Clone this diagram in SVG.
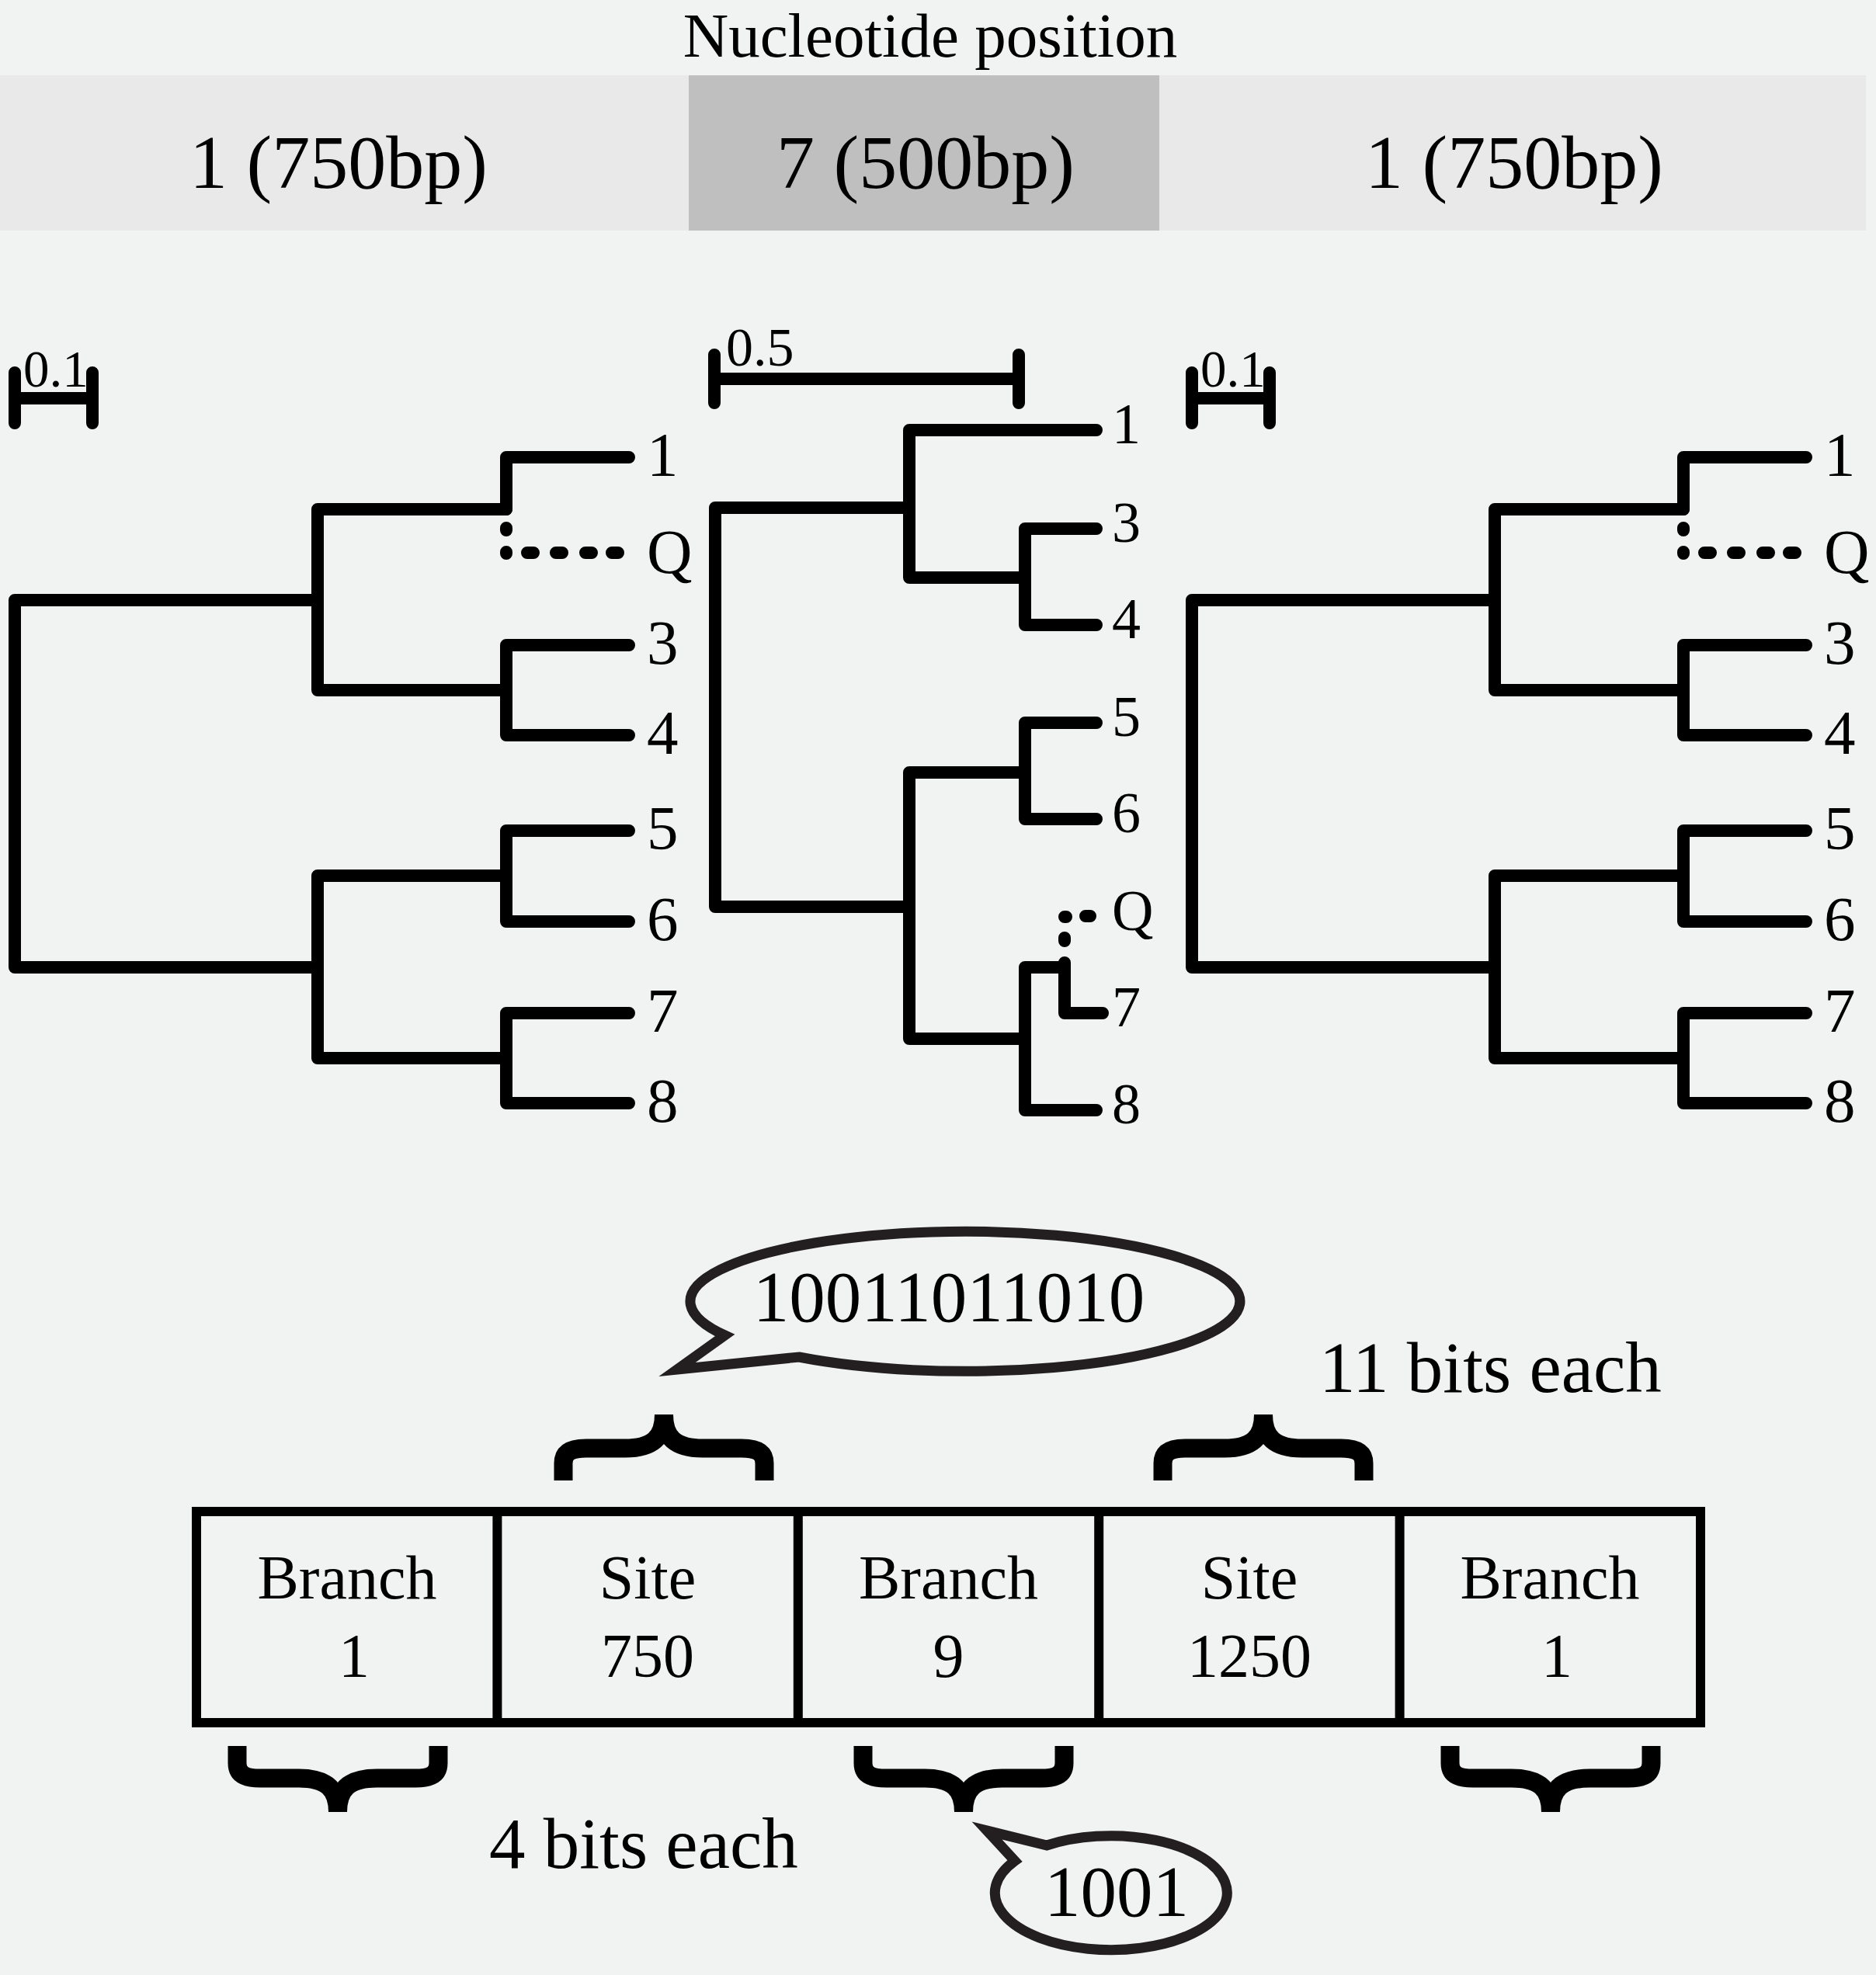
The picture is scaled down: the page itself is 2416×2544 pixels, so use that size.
<svg xmlns="http://www.w3.org/2000/svg" width="2416" height="2544" viewBox="0 0 2416 2544">
<defs>
<style>
.t{font-family:"Liberation Serif","Times New Roman",serif;fill:#000}
.br{fill:none;stroke:#000;stroke-width:16;stroke-linecap:round;stroke-linejoin:round}
.dot{fill:none;stroke:#000;stroke-width:16;stroke-linecap:round}
.lab{font-size:81px}
.mlab{font-size:74px}
.cell{font-size:80px;text-anchor:middle}
.bub{fill:none;stroke:#231f20;stroke-width:13;stroke-linejoin:miter;stroke-miterlimit:10}
.brace{fill:none;stroke:#000;stroke-width:24;stroke-linecap:butt}
</style>
<path id="brace" d="M-129.5,0 V-22 C-129.5,-36 -120,-41.5 -100,-41.5 H-50 C-15,-41.5 0,-55 0,-85 C0,-55 15,-41.5 50,-41.5 H100 C120,-41.5 129.5,-36 129.5,-22 V0"/>
</defs>
<rect width="2416" height="2544" fill="#f1f2f2"/>

<g id="header">
<text class="t" x="1198" y="73" font-size="81" text-anchor="middle">Nucleotide position</text>
<rect x="0" y="97" width="887" height="200" fill="#e9e9e9"/>
<rect x="887" y="97" width="606" height="200" fill="#bfbfbf"/>
<rect x="1493" y="97" width="910" height="200" fill="#e9e9e9"/>
<text class="t" x="436" y="242" font-size="98" text-anchor="middle">1 (750bp)</text>
<text class="t" x="1192" y="242" font-size="98" text-anchor="middle">7 (500bp)</text>
<text class="t" x="1950" y="242" font-size="98" text-anchor="middle">1 (750bp)</text>
</g>

<g id="tree-left">
<path class="br" d="M19,480 V545 M119,480 V545 M19,513 H119"/>
<text class="t" x="30" y="498" font-size="67">0.1</text>
<path class="br" d="M409,773 H19 V1246 H409"/>
<path class="br" d="M652,656 H409 V889 H652"/>
<path class="br" d="M652,656 V589 H810"/>
<path class="br" d="M810,831 H652 V947 H810"/>
<path class="br" d="M652,1128 H409 V1363 H652"/>
<path class="br" d="M810,1070 H652 V1187 H810"/>
<path class="br" d="M810,1305 H652 V1421 H810"/>
<path class="dot" d="M652,680 v3 M652,711 v2 M679,712 h8 M716,712 h8 M754,712 h8 M788,712 h8"/>
<g class="t lab">
<text x="833" y="613">1</text>
<text x="833" y="738">Q</text>
<text x="833" y="855">3</text>
<text x="833" y="971">4</text>
<text x="833" y="1094">5</text>
<text x="833" y="1211">6</text>
<text x="833" y="1329">7</text>
<text x="833" y="1445">8</text>
</g>
</g>

<g id="tree-middle">
<path class="br" d="M920,457 V519 M1312,457 V519 M920,488 H1312"/>
<text class="t" x="935" y="471" font-size="70">0.5</text>
<path class="br" d="M1171,654 H921 V1168 H1171"/>
<path class="br" d="M1412,554 H1171 V744 H1320"/>
<path class="br" d="M1412,681 H1320 V805 H1412"/>
<path class="br" d="M1320,995 H1171 V1338 H1320"/>
<path class="br" d="M1412,931 H1320 V1055 H1412"/>
<path class="br" d="M1371,1246 H1320 V1430 H1412"/>
<path class="br" d="M1371,1240 V1305 H1420"/>
<path class="dot" d="M1371,1208 v4 M1371,1181 h2 M1398,1180 h6"/>
<g class="t mlab">
<text x="1432" y="571">1</text>
<text x="1432" y="698">3</text>
<text x="1432" y="822">4</text>
<text x="1432" y="948">5</text>
<text x="1432" y="1072">6</text>
<text x="1432" y="1198">Q</text>
<text x="1432" y="1322">7</text>
<text x="1432" y="1447">8</text>
</g>
</g>

<g id="tree-right" transform="translate(1516,0)">
<path class="br" d="M19,480 V545 M119,480 V545 M19,513 H119"/>
<text class="t" x="30" y="498" font-size="67">0.1</text>
<path class="br" d="M409,773 H19 V1246 H409"/>
<path class="br" d="M652,656 H409 V889 H652"/>
<path class="br" d="M652,656 V589 H810"/>
<path class="br" d="M810,831 H652 V947 H810"/>
<path class="br" d="M652,1128 H409 V1363 H652"/>
<path class="br" d="M810,1070 H652 V1187 H810"/>
<path class="br" d="M810,1305 H652 V1421 H810"/>
<path class="dot" d="M652,680 v3 M652,711 v2 M679,712 h8 M716,712 h8 M754,712 h8 M788,712 h8"/>
<g class="t lab">
<text x="833" y="613">1</text>
<text x="833" y="738">Q</text>
<text x="833" y="855">3</text>
<text x="833" y="971">4</text>
<text x="833" y="1094">5</text>
<text x="833" y="1211">6</text>
<text x="833" y="1329">7</text>
<text x="833" y="1445">8</text>
</g>
</g>

<g id="encoding">
<rect x="253" y="1947" width="1937" height="272" fill="none" stroke="#000" stroke-width="12"/>
<path d="M640.4,1947 V2219 M1027.8,1947 V2219 M1415.2,1947 V2219 M1802.6,1947 V2219" stroke="#000" stroke-width="12" fill="none"/>
</g>
<g id="cell-1"><text class="t cell" x="447" y="2059">Branch</text><text class="t cell" x="456" y="2160">1</text></g>
<g id="cell-2"><text class="t cell" x="834" y="2059">Site</text><text class="t cell" x="834" y="2160">750</text></g>
<g id="cell-3"><text class="t cell" x="1221.5" y="2059">Branch</text><text class="t cell" x="1221.5" y="2160">9</text></g>
<g id="cell-4"><text class="t cell" x="1609" y="2059">Site</text><text class="t cell" x="1609" y="2160">1250</text></g>
<g id="cell-5"><text class="t cell" x="1996" y="2059">Branch</text><text class="t cell" x="2005" y="2160">1</text></g>

<g id="braces">
<use href="#brace" class="brace" transform="translate(855,1907)"/>
<use href="#brace" class="brace" transform="translate(1627,1907)"/>
<use href="#brace" class="brace" transform="translate(435,2249) scale(1,-1)"/>
<use href="#brace" class="brace" transform="translate(1241,2249) scale(1,-1)"/>
<use href="#brace" class="brace" transform="translate(1997,2249) scale(1,-1)"/>
</g>

<g id="label-11bits"><text class="t" x="1699" y="1793" font-size="93">11 bits each</text></g>
<g id="label-4bits"><text class="t" x="630" y="2406" font-size="93">4 bits each</text></g>

<g id="bubble-site">
<path class="bub" d="M933.5,1720 A354,90 0 1 1 1029,1748 L872,1764 Z"/>
<text class="t" x="1222" y="1702" font-size="93" text-anchor="middle">10011011010</text>
</g>
<g id="bubble-branch">
<path class="bub" d="M1348,2377 A149.5,73.5 0 1 1 1307,2397 L1271,2358 Z"/>
<text class="t" x="1438" y="2468" font-size="93" text-anchor="middle">1001</text>
</g>
</svg>
